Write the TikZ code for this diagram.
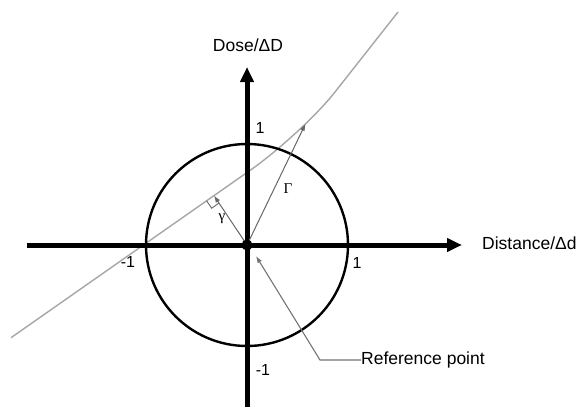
\documentclass[tikz,border=0pt]{standalone}
\usepackage{fontspec}
\setmainfont{Liberation Sans}
\newfontfamily\serifgr{Liberation Serif}
\usetikzlibrary{arrows.meta,calc}
\begin{document}
\begin{tikzpicture}[x=1pt,y=-1pt,
  axisline/.style={line width=5pt,-{Triangle[length=15pt,width=13pt]}},
  unitcircle/.style={line width=2.4pt},
  dosecurve/.style={line width=1.4pt,draw=black!35},
  vecline/.style={line width=1pt,draw=black!60,-{Latex[length=7pt,width=5pt]}},
  refline/.style={line width=1.1pt,draw=black!55,-{Latex[length=7pt,width=5pt]}},
  lbl/.style={inner sep=0pt,font=\fontsize{17.5}{20}\selectfont},
  num/.style={inner sep=0pt,font=\fontsize{16}{18}\selectfont},
  grk/.style={inner sep=0pt,font=\serifgr\fontsize{15}{17}\selectfont}]
\useasboundingbox (0,0) rectangle (581,407);
\coordinate (O) at (247,245);
\coordinate (A) at (11,337.7);
\coordinate (F) at (214,195.6);
\coordinate (H) at (250,170.4);
\coordinate (K) at (335,92);
\coordinate (B) at (398,12);
% dose curve
\draw[dosecurve] (A) -- (F) -- (H) .. controls (278.6,150.4) and (316.9,115.1) .. coordinate[pos=0.6] (G) (K) -- (B);
% axes
\coordinate (xs) at (27,245);
\coordinate (xe) at (462,245);
\coordinate (ys) at (247,407);
\coordinate (ye) at (247,67);
\draw[axisline] (xs) -- (xe);
\draw[axisline] (ys) -- (ye);
% unit circle
\draw[unitcircle] (O) circle[radius=101pt];
% gamma vectors
\draw[vecline] (O) -- (G);
\draw[vecline] (O) -- (F);
% right angle marker
\coordinate (ua) at ($(F)!9pt!(A)$);
\coordinate (ub) at ($(F)!9pt!(O)$);
\draw[line width=0.9pt,draw=black!60] (ua) -- ($(ua)+(ub)-(F)$) -- (ub);
% origin
\node[circle,fill=black,inner sep=0pt,minimum size=11pt] (dot) at (O) {};
% labels
\node[lbl] (ylab) at (248,45) {Dose/ΔD};
\node[lbl,anchor=west] (xlab) at (482,243) {Distance/Δd};
\node[num] (t1) at (260,128) {1};
\node[num] (r1) at (357,263) {1};
\node[num] (l1) at (128,262) {-1};
\node[num] (b1) at (263,370) {-1};
\node[grk] (gl) at (222,219) {γ};
\node[grk] (Gl) at (288,189) {Γ};
% reference point
\node[lbl,anchor=west] (ref) at (361,360) {Reference point};
\coordinate (rc) at (320,360);
\coordinate (rt) at (256,256);
\draw[refline] (ref.west) -- (rc) -- (rt);
\end{tikzpicture}
\end{document}
